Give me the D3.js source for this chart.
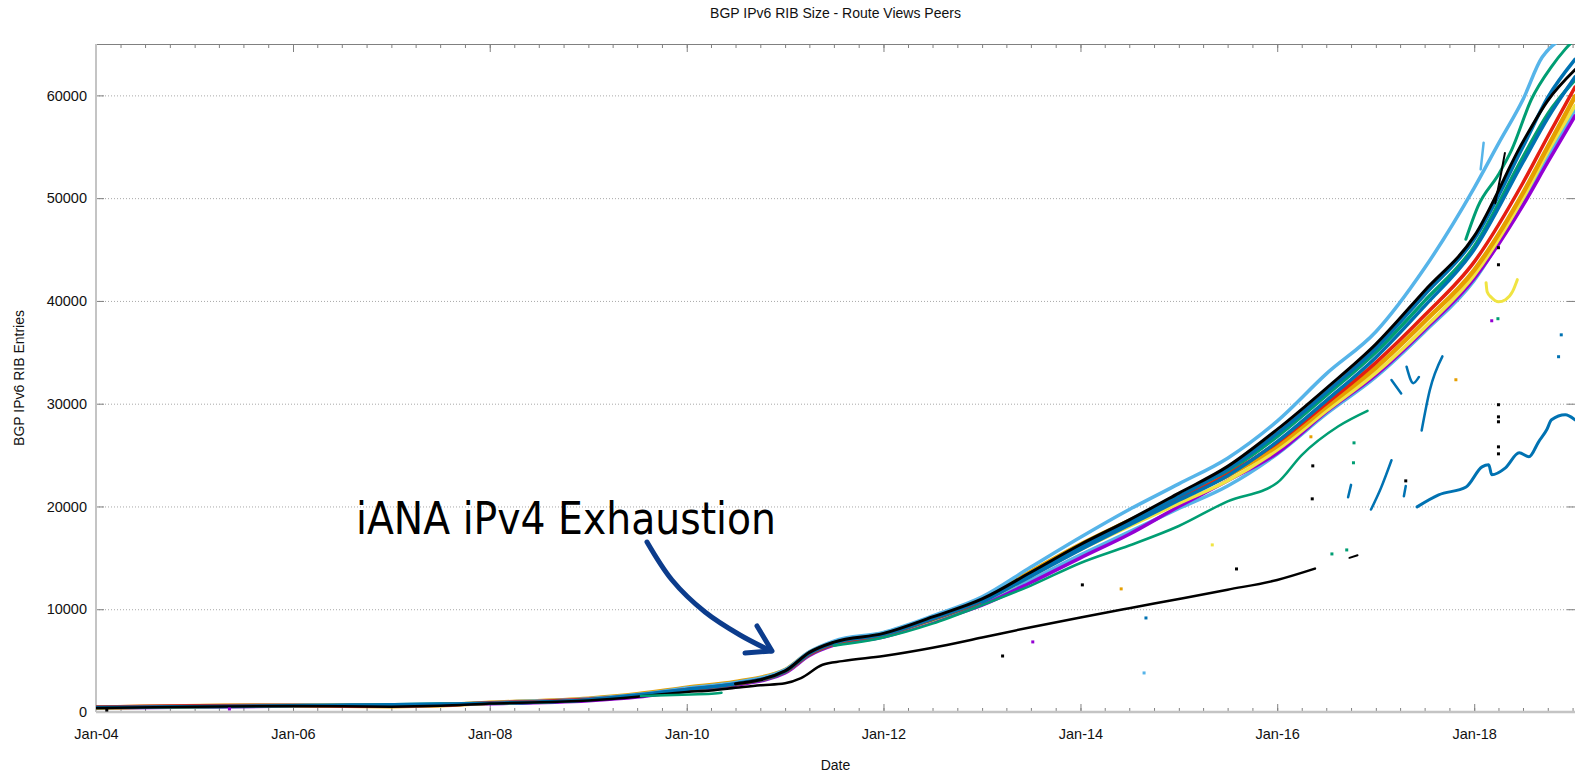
<!DOCTYPE html>
<html>
<head>
<meta charset="utf-8">
<script src="https://d3js.org/d3.v7.min.js"></script>
<style>
  body { margin: 0; background: #fff; }
  text { font-family: "Liberation Sans", Arial, sans-serif; }
</style>
</head>
<body>
<div class="chart"></div>
<script>
var svgWidth = 1577;
var svgHeight = 774;

var margin = {
  top: 44,
  right: 2,
  bottom: 62,
  left: 96
};

var width = svgWidth - margin.left - margin.right;
var height = svgHeight - margin.top - margin.bottom;

// Data: one array per Route Views peer, [date, RIB entries]
// ==============================
var peerLightBlueTop = [["2004-01-01",450],["2005-01-01",590],["2006-01-01",650],["2007-01-01",580],["2007-07-01",670],["2008-01-01",910],["2009-01-01",1280],["2009-07-01",1700],["2010-01-01",2330],["2010-07-01",2870],["2011-01-01",4100],["2011-04-01",5850],["2011-07-01",6900],["2012-01-01",7750],["2012-07-01",9350],["2013-01-01",11200],["2013-07-01",14100],["2014-01-01",17000],["2014-07-01",19700],["2015-01-01",22200],["2015-07-01",24700],["2016-01-01",28300],["2016-07-01",32900],["2017-01-01",37000],["2017-07-01",43200],["2018-01-01",51000],["2018-04-01",55300],["2018-07-01",59600],["2018-09-10",63700],["2019-01-10",66000]];
var peerLightBlueLow = [["2004-01-01",440],["2006-01-01",630],["2008-01-01",860],["2010-01-01",2250],["2011-01-01",3950],["2011-04-01",5650],["2011-07-01",6650],["2012-01-01",7500],["2013-01-01",10600],["2014-01-01",15300],["2015-01-01",19800],["2015-07-01",22000],["2016-01-01",25100],["2016-07-01",29000],["2017-01-01",32600],["2017-07-01",37000],["2018-01-01",42000],["2018-07-01",49800],["2018-10-01",54000],["2019-01-10",58600]];
var peerBlackTop = [["2010-07-01",2750],["2011-01-01",4000],["2011-04-01",5800],["2011-07-01",6800],["2012-01-01",7650],["2012-07-01",9250],["2013-01-01",11000],["2013-07-01",13600],["2014-01-01",16300],["2014-07-01",18700],["2015-01-01",21300],["2015-07-01",23900],["2016-01-01",27500],["2016-07-01",31500],["2017-01-01",35800],["2017-07-01",41000],["2018-01-01",46300],["2018-07-01",55500],["2018-10-01",59500],["2019-01-10",62500]];
var peerBlackLow = [["2004-01-01",380],["2005-01-01",520],["2006-01-01",590],["2007-01-01",520],["2007-07-01",600],["2008-01-01",820],["2009-01-01",1120],["2009-07-01",1480],["2010-01-01",1950],["2010-04-01",2100],["2010-07-01",2350],["2010-10-01",2600],["2011-01-01",2800],["2011-03-01",3300],["2011-05-20",4600],["2011-08-01",4950],["2012-01-01",5450],["2012-07-01",6250],["2013-01-01",7250],["2013-07-01",8250],["2014-01-01",9200],["2014-07-01",10100],["2015-01-01",11000],["2015-07-01",11900],["2016-01-01",12850],["2016-05-20",13950]];
var peerBlue = [["2004-01-01",430],["2006-01-01",620],["2008-01-01",860],["2009-01-01",1200],["2010-01-01",2200],["2010-07-01",2750],["2011-01-01",3950],["2011-04-01",5700],["2011-07-01",6700],["2012-01-01",7550],["2012-07-01",9100],["2013-01-01",10850],["2013-07-01",13400],["2014-01-01",16100],["2014-07-01",18500],["2015-01-01",21000],["2015-07-01",23600],["2016-01-01",27100],["2016-07-01",31100],["2017-01-01",35400],["2017-07-01",40600],["2018-01-01",46000],["2018-07-01",55000],["2018-10-01",59800],["2019-01-10",63500]];
var peerBlue2 = [["2013-01-01",10700],["2013-07-01",13200],["2014-01-01",15800],["2014-07-01",18200],["2015-01-01",20600],["2015-07-01",23000],["2016-01-01",26300],["2016-07-01",30300],["2017-01-01",34500],["2017-07-01",39500],["2018-01-01",45000],["2018-07-01",53500],["2018-10-01",57800],["2019-01-10",61800]];
var peerBlueLow = [["2017-06-03",19960],["2017-08-22",21130],["2017-12-02",21900],["2018-01-30",23850],["2018-02-24",24050],["2018-03-07",23080],["2018-04-27",23760],["2018-06-17",25220],["2018-07-23",24830],["2018-08-28",26290],["2018-09-27",27460],["2018-10-15",28430],["2018-12-05",28920],["2019-01-10",28430]];
var peerGreen = [["2004-01-01",420],["2006-01-01",600],["2008-01-01",840],["2009-01-01",1200],["2010-01-01",2180],["2010-07-01",2700],["2011-01-01",3900],["2011-04-01",5600],["2011-07-01",6600],["2012-01-01",7500],["2012-07-01",9000],["2013-01-01",10750],["2013-07-01",13300],["2014-01-01",16000],["2014-07-01",18400],["2015-01-01",20900],["2015-07-01",23400],["2016-01-01",26800],["2016-07-01",30800],["2017-01-01",35000],["2017-07-01",40000],["2018-01-01",45300],["2018-07-01",54000],["2018-10-01",58200],["2019-01-10",61500]];
var peerGreenUp = [["2017-12-01",46000],["2018-01-15",49200],["2018-04-01",52300],["2018-05-20",54700],["2018-08-01",59600],["2018-10-15",62800],["2018-12-05",64500],["2019-01-10",65500]];
var peerGreenLow = [["2011-07-01",6450],["2012-01-01",7250],["2012-07-01",8600],["2013-01-01",10400],["2013-07-01",12300],["2014-01-01",14500],["2014-07-01",16200],["2015-01-01",18100],["2015-07-01",20500],["2016-01-01",22300],["2016-04-01",25000],["2016-08-15",27800],["2016-12-01",29300]];
var peerGreenEarly = [["2009-07-15",1560],["2009-10-15",1620],["2010-01-15",1700],["2010-04-15",1790],["2010-05-10",1880]];
var peerRed = [["2004-01-01",480],["2005-01-01",610],["2006-01-01",640],["2006-10-01",560],["2007-07-01",650],["2008-01-01",900],["2008-07-01",1020],["2009-01-01",1230],["2009-07-01",1600],["2010-01-01",2200],["2010-07-01",2720],["2011-01-01",3920],["2011-04-01",5620],["2011-07-01",6620],["2012-01-01",7520],["2012-07-01",9050],["2013-01-01",10800],["2013-07-01",13300],["2014-01-01",15900],["2014-07-01",18300],["2015-01-01",20700],["2015-07-01",23100],["2016-01-01",26200],["2016-07-01",30000],["2017-01-01",34000],["2017-07-01",38600],["2018-01-01",43800],["2018-07-01",51500],["2018-10-01",56000],["2019-01-10",60800]];
var peerOrange = [["2004-01-01",430],["2006-01-01",640],["2007-01-01",570],["2007-07-01",650],["2008-01-01",890],["2009-01-01",1290],["2009-07-01",1720],["2010-01-01",2360],["2010-07-01",2920],["2011-01-01",4080],["2011-04-01",5780],["2011-07-01",6780],["2012-01-01",7650],["2012-07-01",9200],["2013-01-01",11050],["2013-07-01",13650],["2014-01-01",16300],["2014-07-01",18600],["2015-01-01",20900],["2015-07-01",23000],["2016-01-01",25900],["2016-07-01",29700],["2017-01-01",33500],["2017-07-01",38000],["2018-01-01",43000],["2018-07-01",50500],["2018-10-01",55000],["2019-01-10",59900]];
var peerYellow = [["2010-01-01",2250],["2011-01-01",3950],["2011-04-01",5650],["2011-07-01",6650],["2012-01-01",7550],["2013-01-01",10800],["2014-01-01",15800],["2015-01-01",20300],["2015-07-01",22500],["2016-01-01",25500],["2016-07-01",29300],["2017-01-01",33000],["2017-07-01",37400],["2018-01-01",42500],["2018-07-01",50000],["2018-10-01",54500],["2019-01-10",59000]];
var peerYellowDip = [["2018-02-14",41770],["2018-02-18",40900],["2018-03-07",40310],["2018-04-01",39920],["2018-04-27",40120],["2018-05-23",40900],["2018-06-10",42070]];
var peerPurple = [["2004-01-01",400],["2006-01-01",580],["2008-01-01",800],["2009-01-01",1100],["2009-07-01",1450],["2010-01-01",2050],["2010-07-01",2600],["2011-01-01",3800],["2011-04-01",5500],["2011-07-01",6500],["2012-01-01",7300],["2012-07-01",8800],["2013-01-01",10400],["2013-07-01",12600],["2014-01-01",15000],["2014-07-01",17300],["2015-01-01",20000],["2015-07-01",22500],["2016-01-01",25200],["2016-07-01",29200],["2017-01-01",32800],["2017-07-01",37200],["2018-01-01",42200],["2018-07-01",49300],["2018-10-01",53500],["2019-01-10",58000]];

// short bursts of a session (drops / re-learns)
var blueBursts = [
  [["2016-12-14",19700],["2017-01-20",21800],["2017-02-28",24500]],
  [["2017-06-20",27400],["2017-07-20",31300],["2017-09-05",34600]],
  [["2017-02-28",32300],["2017-04-05",31000]],
  [["2017-04-25",33600],["2017-05-20",32000],["2017-06-10",32600]],
  [["2016-09-20",20900],["2016-10-01",22100]],
  [["2017-04-15",21000],["2017-04-22",22000]]
];
var blackBursts = [
  [["2018-03-20",49500],["2018-04-10",52300],["2018-04-25",54400]],
  [["2016-09-25",15000],["2016-10-25",15250]]
];
var lightBlueBursts = [
  [["2018-01-25",52800],["2018-02-05",55400]]
];

// stray samples
var blackDots = [["2004-02-10",190],["2018-04-01",25800],["2018-04-01",25120],["2017-04-22",22490],["2016-05-10",20740],["2016-05-12",23950],["2018-04-01",29900],["2018-04-01",28720],["2018-04-01",28240],["2018-04-01",43520],["2018-04-01",45180],["2015-08-03",13920],["2014-01-08",12370],["2013-03-18",5450]];
var purpleDots = [["2013-07-08",6820],["2005-05-10",300],["2018-03-07",38070]];
var greenDots = [["2018-03-30",38270],["2016-09-15",15770],["2016-07-22",15380],["2016-10-10",24250],["2016-10-12",26190]];
var blueDots = [["2014-09-01",9150],["2018-11-20",36700],["2018-11-10",34570]];
var lightBlueDots = [["2014-08-25",3800]];
var orangeDots = [["2014-06-01",11980],["2017-10-25",32330],["2016-05-05",26780]];
var yellowDots = [["2015-05-05",16260]];

var yTickValues = [0, 10000, 20000, 30000, 40000, 50000, 60000];

var parseDate = d3.timeParse("%Y-%m-%d");

// Create an SVG wrapper and the chart group
var svg = d3.select(".chart")
  .append("svg")
  .attr("width", svgWidth)
  .attr("height", svgHeight);

var chartGroup = svg.append("g")
  .attr("transform", `translate(${margin.left}, ${margin.top})`);

// Step 1: scales
// ==============================
var xTimeScale = d3.scaleTime()
  .domain([parseDate("2004-01-01"), parseDate("2019-01-10")])
  .range([0, width]);

var yLinearScale = d3.scaleLinear()
  .domain([0, 65000])
  .range([height, 0]);

// Step 2: grid lines
// ==============================
chartGroup.append("g")
  .attr("class", "grid")
  .call(d3.axisLeft(yLinearScale).tickValues(yTickValues.slice(1)).tickSize(-width).tickFormat(""))
  .call(g => g.select(".domain").remove())
  .selectAll("line")
  .attr("stroke", "#a8a8a8")
  .attr("stroke-dasharray", "1,2");

// Step 3: axes (gnuplot style, ticks pointing inward)
// ==============================
var bottomMinor = chartGroup.append("g")
  .attr("transform", `translate(0, ${height})`)
  .call(d3.axisBottom(xTimeScale).ticks(d3.timeMonth.every(3)).tickSize(-4).tickFormat(""));

var bottomMajor = chartGroup.append("g")
  .attr("transform", `translate(0, ${height})`)
  .call(d3.axisBottom(xTimeScale).ticks(d3.timeYear.every(2)).tickSizeInner(-8).tickSizeOuter(0)
    .tickPadding(17).tickFormat(d3.timeFormat("%b-%y")));

var topMinor = chartGroup.append("g")
  .call(d3.axisTop(xTimeScale).ticks(d3.timeMonth.every(3)).tickSize(-4).tickFormat(""));

var topMajor = chartGroup.append("g")
  .call(d3.axisTop(xTimeScale).ticks(d3.timeYear.every(2)).tickSize(-8).tickFormat(""));

var leftAxis = chartGroup.append("g")
  .call(d3.axisLeft(yLinearScale).tickValues(yTickValues).tickSizeInner(-8).tickSizeOuter(0)
    .tickPadding(9).tickFormat(d3.format("d")));

var rightAxis = chartGroup.append("g")
  .attr("transform", `translate(${width}, 0)`)
  .call(d3.axisRight(yLinearScale).tickValues(yTickValues.slice(1)).tickSize(-8).tickFormat(""));

[bottomMinor, bottomMajor, topMinor, topMajor, leftAxis, rightAxis].forEach(function(ax) {
  ax.select(".domain").remove();
  ax.selectAll(".tick line").attr("stroke", "#808080");
  ax.selectAll(".tick text")
    .attr("fill", "#111")
    .style("font-size", "14.5px")
    .style("font-family", "'Liberation Sans', Arial, sans-serif");
});

// frame
chartGroup.append("line")
  .attr("x1", 0).attr("x2", width).attr("y1", 0.5).attr("y2", 0.5)
  .attr("stroke", "#808080");
chartGroup.append("line")
  .attr("x1", 0).attr("x2", width).attr("y1", height).attr("y2", height)
  .attr("stroke", "#c4c4c4").attr("stroke-width", 2.5);
chartGroup.append("line")
  .attr("x1", 0).attr("x2", 0).attr("y1", 0).attr("y2", height)
  .attr("stroke", "#c4c4c4").attr("stroke-width", 2);

// Step 4: peer series
// ==============================
chartGroup.append("clipPath")
  .attr("id", "plotClip")
  .append("rect")
  .attr("width", width)
  .attr("height", height);

var plot = chartGroup.append("g")
  .attr("clip-path", "url(#plotClip)");

var peerLine = d3.line()
  .x(d => xTimeScale(parseDate(d[0])))
  .y(d => yLinearScale(d[1]))
  .curve(d3.curveMonotoneX);

var series = [
  {values: peerLightBlueLow, color: "#56b4e9", w: 3.5},
  {values: peerPurple, color: "#9400d3", w: 3.5},
  {values: peerYellow, color: "#f0e442", w: 3.5},
  {values: peerGreen, color: "#009e73", w: 3.5},
  {values: peerOrange, color: "#e69f00", w: 4.5},
  {values: peerLightBlueTop, color: "#56b4e9", w: 3.5},
  {values: peerRed, color: "#e51e10", w: 3.5},
  {values: peerBlue2, color: "#0072b2", w: 3.5},
  {values: peerBlue, color: "#0072b2", w: 3.5},
  {values: peerBlackTop, color: "#000000", w: 3},
  {values: peerGreenUp, color: "#009e73", w: 3},
  {values: peerGreenLow, color: "#009e73", w: 2.5},
  {values: peerBlackLow, color: "#000000", w: 2.5},
  {values: peerGreenEarly, color: "#009e73", w: 2.5},
  {values: peerBlueLow, color: "#0072b2", w: 3},
  {values: peerYellowDip, color: "#f0e442", w: 3}
];

blueBursts.forEach(v => series.push({values: v, color: "#0072b2", w: 2.5}));
blackBursts.forEach(v => series.push({values: v, color: "#000000", w: 2}));
lightBlueBursts.forEach(v => series.push({values: v, color: "#56b4e9", w: 2.5}));

plot.selectAll(".peer")
  .data(series)
  .enter()
  .append("path")
  .attr("class", "peer")
  .attr("d", d => peerLine(d.values))
  .attr("fill", "none")
  .attr("stroke", d => d.color)
  .attr("stroke-width", d => d.w)
  .attr("stroke-linejoin", "round")
  .attr("stroke-linecap", "round");

var dotGroups = [
  {values: blackDots, color: "#000000"},
  {values: purpleDots, color: "#9400d3"},
  {values: greenDots, color: "#009e73"},
  {values: blueDots, color: "#0072b2"},
  {values: lightBlueDots, color: "#56b4e9"},
  {values: orangeDots, color: "#e69f00"},
  {values: yellowDots, color: "#f0e442"}
];

dotGroups.forEach(function(grp) {
  plot.selectAll(null)
    .data(grp.values)
    .enter()
    .append("rect")
    .attr("x", d => xTimeScale(parseDate(d[0])) - 1.5)
    .attr("y", d => yLinearScale(d[1]) - 1.5)
    .attr("width", 3)
    .attr("height", 3)
    .attr("fill", grp.color);
});

// Step 5: titles
// ==============================
svg.append("text")
  .attr("x", margin.left + width / 2)
  .attr("y", 18)
  .attr("text-anchor", "middle")
  .style("font-size", "14px")
  .attr("fill", "#111")
  .text("BGP IPv6 RIB Size - Route Views Peers");

svg.append("text")
  .attr("transform", `translate(24, ${margin.top + height / 2}) rotate(-90)`)
  .attr("text-anchor", "middle")
  .style("font-size", "14px")
  .attr("fill", "#111")
  .text("BGP IPv6 RIB Entries");

svg.append("text")
  .attr("x", margin.left + width / 2)
  .attr("y", 770)
  .attr("text-anchor", "middle")
  .style("font-size", "14px")
  .attr("fill", "#111")
  .text("Date");

// Step 6: hand drawn annotation
// ==============================
svg.append("text")
  .attr("x", 356)
  .attr("y", 534)
  .attr("textLength", 420)
  .attr("lengthAdjust", "spacingAndGlyphs")
  .style("font-family", "'DejaVu Sans', sans-serif")
  .style("font-size", "44px")
  .attr("fill", "#000")
  .text("iANA iPv4 Exhaustion");

var arrowPts = [[647, 542], [672, 580], [705, 612], [740, 635], [771, 651]];
svg.append("path")
  .attr("d", d3.line().curve(d3.curveCatmullRom)(arrowPts))
  .attr("fill", "none")
  .attr("stroke", "#0c3c8c")
  .attr("stroke-width", 5)
  .attr("stroke-linecap", "round");

svg.append("path")
  .attr("d", "M757,626 L772,651 L745,653")
  .attr("fill", "none")
  .attr("stroke", "#0c3c8c")
  .attr("stroke-width", 5)
  .attr("stroke-linecap", "round")
  .attr("stroke-linejoin", "round");
</script>
</body>
</html>
